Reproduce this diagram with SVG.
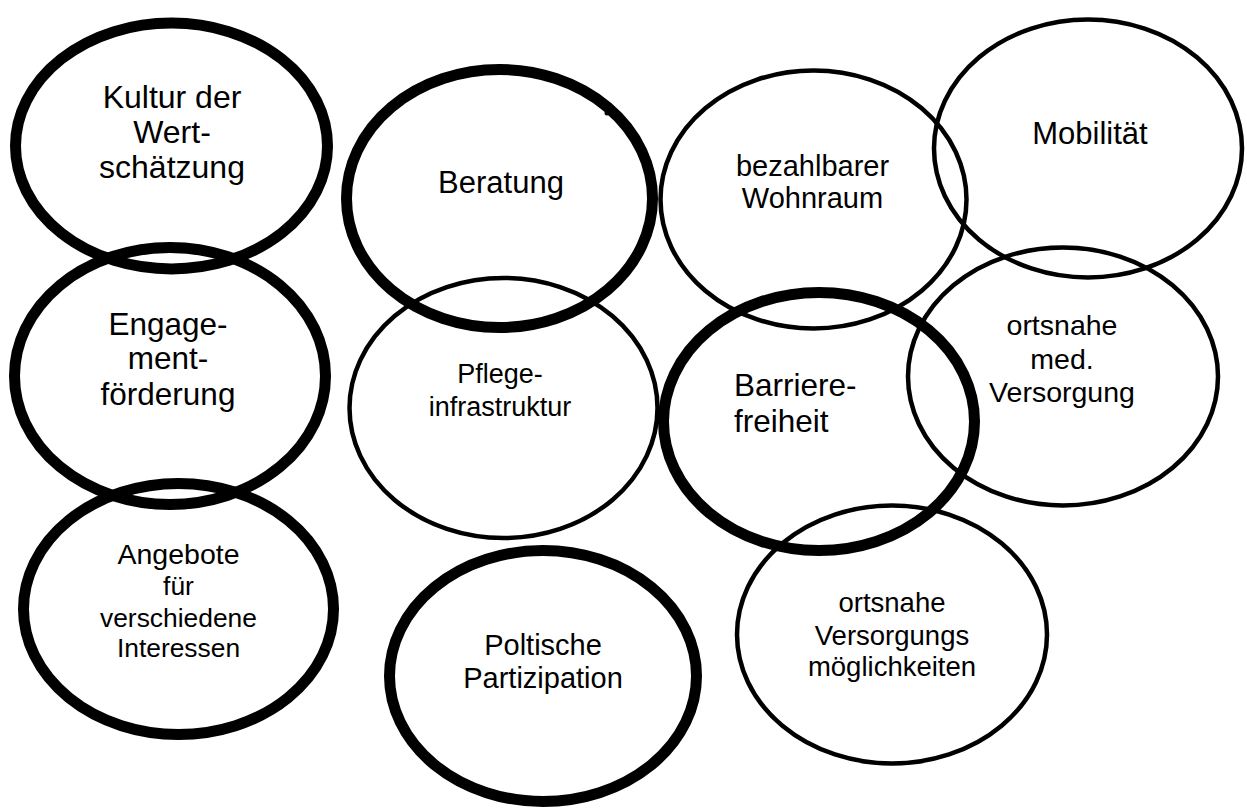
<svg xmlns="http://www.w3.org/2000/svg" width="1247" height="810" viewBox="0 0 1247 810">
<style>
.thick{fill:none;stroke:#000;stroke-width:11}
.thin{fill:none;stroke:#000;stroke-width:4.5}
text{font-family:"Liberation Sans",Arial,sans-serif;fill:#000;text-anchor:middle}
</style>
<rect width="1247" height="810" fill="#fff"/>
<g id="connectors"></g>
<g id="kultur">
<ellipse class="thick" cx="171.5" cy="146" rx="156" ry="123"/>
<g font-size="32">
<text x="172" y="108">Kultur der</text>
<text x="172" y="143">Wert-</text>
<text x="172" y="178">schätzung</text>
</g>
</g>
<g id="beratung">
<ellipse class="thick" cx="499.5" cy="198.5" rx="153" ry="129"/>
<circle cx="607" cy="113" r="2.5" fill="#000"/>
<g font-size="31">
<text x="501" y="193">Beratung</text>
</g>
</g>
<g id="wohnraum">
<ellipse class="thin" cx="813.5" cy="199.5" rx="153" ry="129"/>
<g font-size="29">
<text x="812.5" y="176">bezahlbarer</text>
<text x="812.5" y="208">Wohnraum</text>
</g>
</g>
<g id="mobilitaet">
<ellipse class="thin" cx="1088" cy="148.5" rx="154" ry="129"/>
<g font-size="31">
<text x="1090" y="144">Mobilität</text>
</g>
</g>
<g id="engagement">
<ellipse class="thick" cx="170" cy="376" rx="155.5" ry="128.5"/>
<g font-size="31.5">
<text x="168" y="335">Engage-</text>
<text x="168" y="369">ment-</text>
<text x="168" y="405">förderung</text>
</g>
</g>
<g id="pflege">
<ellipse class="thin" cx="503.5" cy="408" rx="154" ry="130"/>
<g font-size="27">
<text x="500" y="383">Pflege-</text>
<text x="500" y="416">infrastruktur</text>
</g>
</g>
<g id="barriere">
<ellipse class="thick" cx="819" cy="421.5" rx="155.5" ry="129"/>
<g font-size="31.5">
<text x="734" y="396" style="text-anchor:start">Barriere-</text>
<text x="734" y="432" style="text-anchor:start">freiheit</text>
</g>
</g>
<g id="med-versorgung">
<ellipse class="thin" cx="1063" cy="376.5" rx="155" ry="129"/>
<g font-size="28.5">
<text x="1062" y="335">ortsnahe</text>
<text x="1062" y="369">med.</text>
<text x="1062" y="402">Versorgung</text>
</g>
</g>
<g id="angebote">
<ellipse class="thick" cx="178.5" cy="609" rx="155" ry="125.5"/>
<text x="178.5" y="564" font-size="28.5">Angebote</text>
<text x="178.5" y="595" font-size="26.4">für</text>
<text x="178.5" y="627" font-size="26.4">verschiedene</text>
<text x="178.5" y="657" font-size="26.4">Interessen</text>
</g>
<g id="partizipation">
<ellipse class="thick" cx="543" cy="676" rx="153.5" ry="125.5"/>
<g font-size="29">
<text x="543" y="655">Poltische</text>
<text x="543" y="688">Partizipation</text>
</g>
</g>
<g id="versorgungsmoeglichkeiten">
<ellipse class="thin" cx="892" cy="634.5" rx="155" ry="129"/>
<g font-size="27.5">
<text x="892" y="612">ortsnahe</text>
<text x="892" y="645">Versorgungs</text>
<text x="892" y="676">möglichkeiten</text>
</g>
</g>
</svg>
